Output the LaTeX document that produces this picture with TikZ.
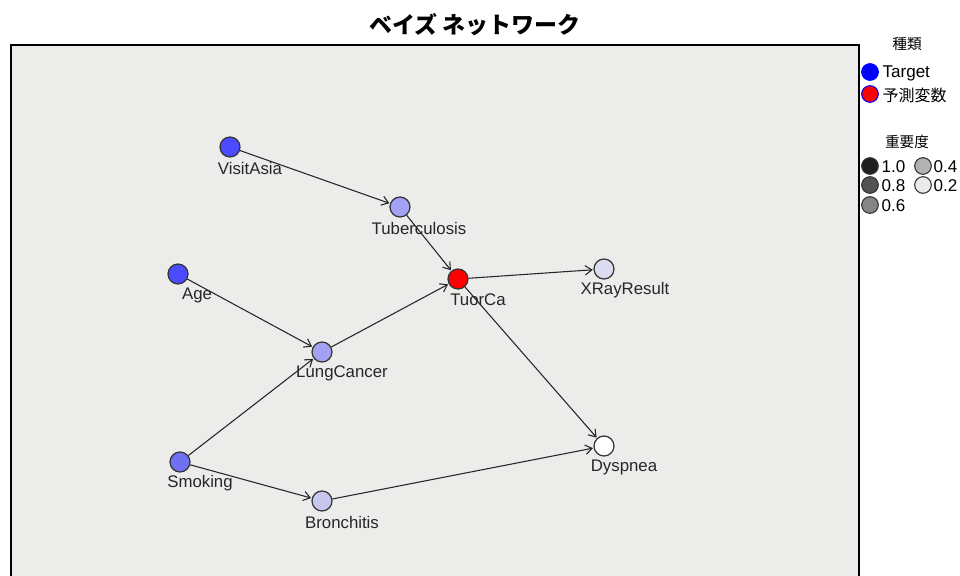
\documentclass[tikz,border=0pt]{standalone}
\usepackage{fontspec}
\setmainfont{Liberation Sans}
\newfontfamily\jpfont{Noto Sans CJK JP}
\usetikzlibrary{arrows.meta}

\definecolor{panelbg}{HTML}{ECECEA}
\definecolor{imp10}{HTML}{4B4BFF}
\definecolor{imp08}{HTML}{7070F2}
\definecolor{imp06}{HTML}{A2A2F4}
\definecolor{imp04}{HTML}{C6C6EE}
\definecolor{imp02}{HTML}{DCDCF0}
\definecolor{rim}{HTML}{333333}

\begin{document}
\begin{tikzpicture}[
    x=0.75pt, y=-0.75pt,
    every path/.style={line width=0.8pt},
    >={Straight Barb[length=5pt, width=7pt]}
]
    \tikzset{
        knoten/.style={circle, draw=rim, line width=0.9pt, minimum size=15pt, inner sep=0pt},
        lbl/.style={font=\fontsize{12.6}{14}\selectfont, inner sep=0pt, text=black!85},
        legtxt/.style={font=\fontsize{12.8}{14}\selectfont, inner sep=0pt, anchor=west},
        legdot/.style={circle, draw=rim, line width=0.8pt, minimum size=12.5pt, inner sep=0pt},
        kante/.style={->, draw=black!85, shorten >=0.5pt}
    }

    \useasboundingbox (0,0) rectangle (960,575);

    % Rahmen
    \fill[white] (0,0) rectangle (960,575);
    \draw[fill=panelbg, line width=1.1pt] (11,45) rectangle (859,590);
    \node[font=\jpfont\bfseries\fontsize{17.2}{20}\selectfont] (titel) at (475,25) {ベイズ ネットワーク};

    % Knoten
    \node[knoten, fill=imp10] (visitasia) at (230,147) {};
    \node[knoten, fill=imp06] (tuberc)    at (400,207) {};
    \node[knoten, fill=imp10] (age)       at (178,274) {};
    \node[knoten, fill=red]   (tuorca)    at (458,279) {};
    \node[knoten, fill=imp02] (xray)      at (604,269) {};
    \node[knoten, fill=imp06] (lungc)     at (322,352) {};
    \node[knoten, fill=imp08] (smoking)   at (180,462) {};
    \node[knoten, fill=imp04] (bronch)    at (322,501) {};
    \node[knoten, fill=white] (dyspnea)   at (604,446) {};

    % Beschriftungen
    \node[lbl] (visitasia-l) at (250,168) {VisitAsia};
    \node[lbl] (tuberc-l)    at (419,228) {Tuberculosis};
    \node[lbl] (age-l)       at (197,295) {Age};
    \node[lbl] (tuorca-l)    at (478,300) {TuorCa};
    \node[lbl] (xray-l)      at (625,290) {XRayResult};
    \node[lbl] (lungc-l)     at (342,373) {LungCancer};
    \node[lbl] (smoking-l)   at (200,483) {Smoking};
    \node[lbl] (bronch-l)    at (342,522) {Bronchitis};
    \node[lbl] (dyspnea-l)   at (624,467) {Dyspnea};

    % Kanten
    \draw[kante] (visitasia) -- (tuberc);
    \draw[kante] (tuberc) -- (tuorca);
    \draw[kante] (age) -- (lungc);
    \draw[kante] (smoking) -- (lungc);
    \draw[kante] (lungc) -- (tuorca);
    \draw[kante] (tuorca) -- (xray);
    \draw[kante] (tuorca) -- (dyspnea);
    \draw[kante] (smoking) -- (bronch);
    \draw[kante] (bronch) -- (dyspnea);

    % Legende
    \node[font=\jpfont\fontsize{11}{13}\selectfont] (art) at (907,44) {種類};
    \node[legdot, draw=blue, fill=blue] (art-t) at (870,72) {};
    \node[legtxt] (art-t-l) at (882,73) {Target};
    \node[legdot, draw=blue, fill=red] (art-p) at (870,94) {};
    \node[legtxt, font=\jpfont\fontsize{12}{13}\selectfont] (art-p-l) at (882,95) {予測変数};

    \node[font=\jpfont\fontsize{11}{13}\selectfont] (imp) at (907,142) {重要度};
    \node[legdot, fill=black!88] (imp-a) at (870,166) {};
    \node[legtxt] (imp-a-l) at (881,167) {1.0};
    \node[legdot, fill=black!68] (imp-b) at (870,185) {};
    \node[legtxt] (imp-b-l) at (881,186) {0.8};
    \node[legdot, fill=black!48] (imp-c) at (870,205) {};
    \node[legtxt] (imp-c-l) at (881,206) {0.6};
    \node[legdot, fill=black!30] (imp-d) at (923,166) {};
    \node[legtxt] (imp-d-l) at (933,167) {0.4};
    \node[legdot, fill=black!8] (imp-e) at (923,185) {};
    \node[legtxt] (imp-e-l) at (933,186) {0.2};
\end{tikzpicture}
\end{document}
